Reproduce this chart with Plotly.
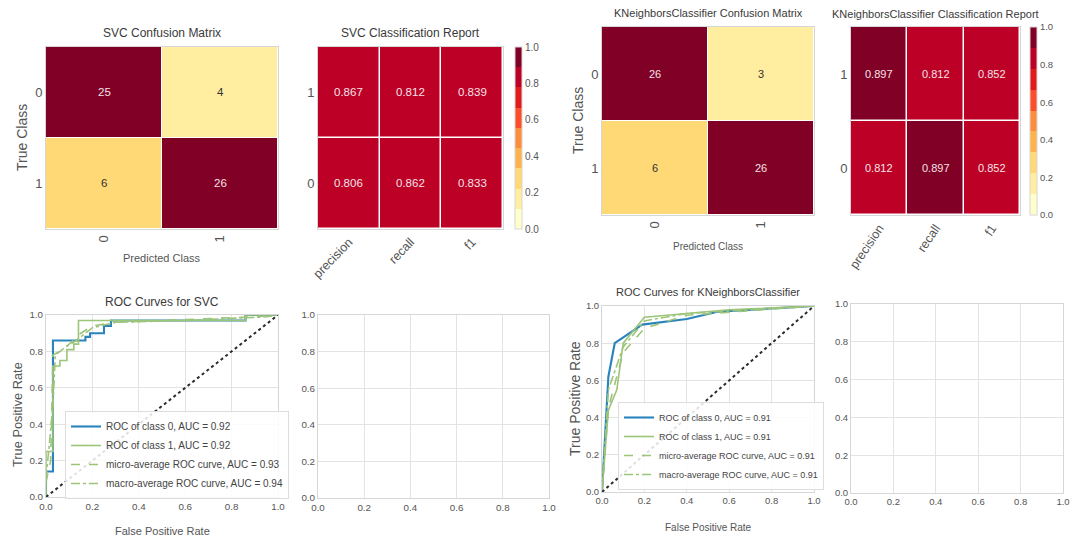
import plotly.graph_objects as go

W, H = 1070, 537
NARROW = "Liberation Sans, Arial, sans-serif"
REG = "Liberation Sans, Arial, sans-serif"
TITLE_C = "#3a3a3a"
TICK_C = "#555555"
FRAME_C = "#d6d6d6"
GRID_C = "#e3e3e3"
BLUE = "#2a83bd"
GREEN = "#9cc57a"

# ---------------- data ----------------
classes = ["0", "1"]
metrics = ["precision", "recall", "f1"]

svc_cm = [[25, 4], [6, 26]]
knn_cm = [[26, 3], [6, 26]]

# rows: class 0, class 1
svc_report = [[0.806, 0.862, 0.833], [0.867, 0.812, 0.839]]
knn_report = [[0.812, 0.897, 0.852], [0.897, 0.812, 0.852]]

cbar_ticks = [0.0, 0.2, 0.4, 0.6, 0.8, 1.0]
roc_ticks = [0.0, 0.2, 0.4, 0.6, 0.8, 1.0]

svc_roc0_fpr = [0.0, 0.0, 0.03, 0.03, 0.17, 0.17, 0.19, 0.19, 0.25, 0.25, 0.28, 0.28, 0.86, 0.86, 1.0]
svc_roc0_tpr = [0.0, 0.14, 0.14, 0.86, 0.86, 0.88, 0.88, 0.90, 0.90, 0.94, 0.94, 0.97, 0.97, 1.0, 1.0]
svc_roc1_fpr = [0.0, 0.0, 0.03, 0.03, 0.06, 0.06, 0.09, 0.09, 0.12, 0.12, 0.14, 0.14, 0.86, 0.86, 1.0]
svc_roc1_tpr = [0.0, 0.25, 0.25, 0.72, 0.72, 0.75, 0.75, 0.81, 0.81, 0.84, 0.84, 0.97, 0.97, 1.0, 1.0]
svc_micro_fpr = [0.0, 0.02, 0.03, 0.06, 0.10, 0.15, 0.20, 0.30, 0.50, 0.90, 1.0]
svc_micro_tpr = [0.08, 0.20, 0.78, 0.80, 0.84, 0.90, 0.94, 0.96, 0.97, 0.99, 1.0]
svc_macro_fpr = [0.0, 0.03, 0.04, 0.08, 0.13, 0.20, 0.30, 0.60, 0.95, 1.0]
svc_macro_tpr = [0.10, 0.50, 0.78, 0.82, 0.86, 0.93, 0.96, 0.97, 0.99, 1.0]

knn_roc0_fpr = [0.0, 0.015, 0.03, 0.06, 0.19, 0.40, 0.55, 1.0]
knn_roc0_tpr = [0.0, 0.30, 0.62, 0.80, 0.90, 0.93, 0.97, 1.0]
knn_roc1_fpr = [0.0, 0.03, 0.07, 0.10, 0.20, 0.40, 0.60, 1.0]
knn_roc1_tpr = [0.0, 0.44, 0.55, 0.80, 0.94, 0.96, 0.98, 1.0]
knn_micro_fpr = [0.0, 0.03, 0.10, 0.20, 0.40, 1.0]
knn_micro_tpr = [0.0, 0.45, 0.75, 0.88, 0.95, 1.0]
knn_macro_fpr = [0.0, 0.03, 0.10, 0.20, 0.40, 1.0]
knn_macro_tpr = [0.0, 0.55, 0.78, 0.92, 0.96, 1.0]

svc_auc = {"c0": 0.92, "c1": 0.92, "micro": 0.93, "macro": 0.94}
knn_auc = {"c0": 0.91, "c1": 0.91, "micro": 0.91, "macro": 0.91}

# ---------------- helpers ----------------
YLORRD9 = ["#ffffcc", "#ffeda0", "#fed976", "#feb24c", "#fd8d3c",
           "#fc4e2a", "#e31a1c", "#bd0026", "#800026"]
cscale = []
for i, c in enumerate(YLORRD9):
    cscale.append([i / 9, c])
    cscale.append([(i + 1) / 9, c])


def px(x):
    return x / W


def py(y):
    return 1 - y / H


fig = go.Figure()
annotations = []


def text_ann(text, x, y, size, color=TITLE_C, angle=0, family=NARROW):
    annotations.append(dict(text=text, x=px(x), y=py(y), xref="paper", yref="paper",
                            showarrow=False, xanchor="center", yanchor="middle",
                            textangle=angle, font=dict(family=family, size=size, color=color)))


def frame_axis(**kw):
    d = dict(showline=True, mirror=True, linecolor=FRAME_C, linewidth=1,
             zeroline=False, ticks="", automargin=False,
             tickfont=dict(family=NARROW, color=TICK_C))
    d.update(kw)
    return d


# confusion matrices
def add_cm(z, ax, cell_size):
    xa = "x" if ax == 1 else f"x{ax}"
    ya = "y" if ax == 1 else f"y{ax}"
    zmax = max(max(r) for r in z)
    fig.add_trace(go.Heatmap(z=z, x=classes, y=classes, xaxis=xa, yaxis=ya,
                             colorscale=cscale, zmin=0, zmax=zmax, showscale=False,
                             xgap=1, ygap=1, hoverinfo="skip"))
    for r, row in enumerate(z):
        for c, v in enumerate(row):
            col = "#f4e2e6" if v / zmax > 0.5 else "#333333"
            annotations.append(dict(text=str(v), x=classes[c], y=classes[r], xref=xa, yref=ya,
                                    showarrow=False, font=dict(family=NARROW, size=cell_size, color=col)))


def add_report(z, ax, cbx, cby, cblen, cell_size, tsize):
    xa = f"x{ax}"
    ya = f"y{ax}"
    fig.add_trace(go.Heatmap(z=z, x=metrics, y=classes, xaxis=xa, yaxis=ya,
                             colorscale=cscale, zmin=0, zmax=1, xgap=1.5, ygap=1.5,
                             hoverinfo="skip",
                             colorbar=dict(x=px(cbx), xanchor="left", y=py(cby), yanchor="middle",
                                           len=cblen / H, lenmode="fraction", thickness=7,
                                           outlinewidth=1, outlinecolor=FRAME_C,
                                           tickvals=cbar_ticks, ticktext=[f"{t:.1f}" for t in cbar_ticks],
                                           ticks="", tickfont=dict(family=NARROW, size=tsize, color=TICK_C),
                                           xpad=0, ypad=0)))
    for r, row in enumerate(z):
        for c, v in enumerate(row):
            col = "#f4e2e6" if v > 0.45 else "#333333"
            annotations.append(dict(text=f"{v:.3f}", x=metrics[c], y=classes[r], xref=xa, yref=ya,
                                    showarrow=False, font=dict(family=NARROW, size=cell_size, color=col)))


add_cm(svc_cm, 1, 11.5)
add_report(svc_report, 2, 515, 138, 182, 11.5, 10)
add_cm(knn_cm, 3, 11)
add_report(knn_report, 4, 1030, 121, 188, 11, 9.5)


def add_roc(ax, legend, data, auc, lw):
    xa = f"x{ax}"
    ya = f"y{ax}"
    (f0, t0), (f1, t1), (fm, tm), (fa, ta) = data
    fig.add_trace(go.Scatter(x=f0, y=t0, xaxis=xa, yaxis=ya, mode="lines", legend=legend,
                             line=dict(color=BLUE, width=lw + 0.5),
                             name=f"ROC of class 0, AUC = {auc['c0']:.2f}"))
    fig.add_trace(go.Scatter(x=f1, y=t1, xaxis=xa, yaxis=ya, mode="lines", legend=legend,
                             line=dict(color=GREEN, width=lw),
                             name=f"ROC of class 1, AUC = {auc['c1']:.2f}"))
    fig.add_trace(go.Scatter(x=fm, y=tm, xaxis=xa, yaxis=ya, mode="lines", legend=legend,
                             line=dict(color=GREEN, width=lw, dash="dash"),
                             name=f"micro-average ROC curve, AUC = {auc['micro']:.2f}"))
    fig.add_trace(go.Scatter(x=fa, y=ta, xaxis=xa, yaxis=ya, mode="lines", legend=legend,
                             line=dict(color=GREEN, width=lw, dash="dashdot"),
                             name=f"macro-average ROC curve, AUC = {auc['macro']:.2f}"))
    fig.add_trace(go.Scatter(x=[roc_ticks[0], roc_ticks[-1]], y=[roc_ticks[0], roc_ticks[-1]],
                             xaxis=xa, yaxis=ya, mode="lines", showlegend=False,
                             line=dict(color="#2b2b2b", width=2, dash="dot")))


add_roc(5, "legend", [(svc_roc0_fpr, svc_roc0_tpr), (svc_roc1_fpr, svc_roc1_tpr),
                      (svc_micro_fpr, svc_micro_tpr), (svc_macro_fpr, svc_macro_tpr)], svc_auc, 1.6)
add_roc(7, "legend2", [(knn_roc0_fpr, knn_roc0_tpr), (knn_roc1_fpr, knn_roc1_tpr),
                       (knn_micro_fpr, knn_micro_tpr), (knn_macro_fpr, knn_macro_tpr)], knn_auc, 1.6)

for ax in (6, 8):
    fig.add_trace(go.Scatter(x=[], y=[], xaxis=f"x{ax}", yaxis=f"y{ax}", showlegend=False))

# ---------------- layout ----------------
layout = dict(width=W, height=H, margin=dict(l=0, r=0, t=0, b=0, autoexpand=False),
              paper_bgcolor="white", plot_bgcolor="white", showlegend=True)

# heatmap axes
layout["xaxis"] = frame_axis(domain=[px(46), px(278)], anchor="y", tickangle=-90,
                             tickfont=dict(family=NARROW, size=13, color=TICK_C))
layout["yaxis"] = frame_axis(domain=[py(229), py(47)], anchor="x", autorange="reversed",
                             tickfont=dict(family=NARROW, size=13, color=TICK_C))
layout["xaxis2"] = frame_axis(domain=[px(318), px(503)], anchor="y2", tickangle=-46,
                              tickfont=dict(family=NARROW, size=12.5, color=TICK_C))
layout["yaxis2"] = frame_axis(domain=[py(229), py(47)], anchor="x2",
                              tickfont=dict(family=NARROW, size=13, color=TICK_C))
layout["xaxis3"] = frame_axis(domain=[px(602), px(814)], anchor="y3", tickangle=-90,
                              tickfont=dict(family=NARROW, size=13, color=TICK_C))
layout["yaxis3"] = frame_axis(domain=[py(215), py(27)], anchor="x3", autorange="reversed",
                              tickfont=dict(family=NARROW, size=13, color=TICK_C))
layout["xaxis4"] = frame_axis(domain=[px(851), px(1020)], anchor="y4", tickangle=-56,
                              tickfont=dict(family=NARROW, size=12.5, color=TICK_C))
layout["yaxis4"] = frame_axis(domain=[py(215), py(27)], anchor="x4",
                              tickfont=dict(family=NARROW, size=13, color=TICK_C))


def roc_axis(dom, anchor, size):
    return frame_axis(domain=dom, anchor=anchor, range=[roc_ticks[0], roc_ticks[-1]],
                      tickvals=roc_ticks, ticktext=[f"{t:.1f}" for t in roc_ticks],
                      showgrid=True, gridcolor=GRID_C, gridwidth=1.2,
                      tickfont=dict(family=NARROW, size=size, color=TICK_C))


layout["xaxis5"] = roc_axis([px(46), px(278)], "y5", 9.8)
layout["yaxis5"] = roc_axis([py(497), py(315)], "x5", 9.8)
layout["xaxis6"] = roc_axis([px(318), px(549)], "y6", 9.8)
layout["yaxis6"] = roc_axis([py(498), py(315)], "x6", 9.8)
layout["xaxis7"] = roc_axis([px(602), px(814)], "y7", 9.5)
layout["yaxis7"] = roc_axis([py(492), py(306)], "x7", 9.5)
layout["xaxis8"] = roc_axis([px(851), px(1063)], "y8", 9.5)
layout["yaxis8"] = roc_axis([py(493), py(304)], "x8", 9.5)

legend_common = dict(bgcolor="rgba(255,255,255,0.85)", bordercolor="#dddddd", borderwidth=1,
                     xanchor="left", yanchor="top", itemwidth=30, tracegroupgap=0)
layout["legend"] = dict(x=px(65), y=py(411), font=dict(family=NARROW, size=10, color="#444"),
                        **legend_common)
layout["legend2"] = dict(x=px(618), y=py(402), font=dict(family=NARROW, size=9, color="#444"),
                         **legend_common)

# titles and axis labels
text_ann("SVC Confusion Matrix", 162, 33, 12)
text_ann("SVC Classification Report", 410, 33, 12)
text_ann("KNeighborsClassifier Confusion Matrix", 708, 13, 11)
text_ann("KNeighborsClassifier Classification Report", 935, 14, 11)
text_ann("ROC Curves for SVC", 162, 302, 12)
text_ann("ROC Curves for KNeighborsClassifier", 708, 292, 11)

text_ann("Predicted Class", 162, 258, 11, TICK_C)
text_ann("Predicted Class", 708, 246, 10, TICK_C)
text_ann("False Positive Rate", 162, 531, 11, TICK_C)
text_ann("False Positive Rate", 708, 527, 10, TICK_C)
text_ann("True Class", 22, 138, 14, TICK_C, -90, REG)
text_ann("True Class", 578, 121, 14, TICK_C, -90, REG)
text_ann("True Positive Rate", 17, 415, 12.8, TICK_C, -90, REG)
text_ann("True Positive Rate", 575, 399, 14, TICK_C, -90, REG)

layout["annotations"] = annotations
fig.update_layout(**layout)
fig.write_html("out.html", config={"displayModeBar": False},
               post_script="document.body.style.margin='0';document.body.style.overflow='hidden';")
